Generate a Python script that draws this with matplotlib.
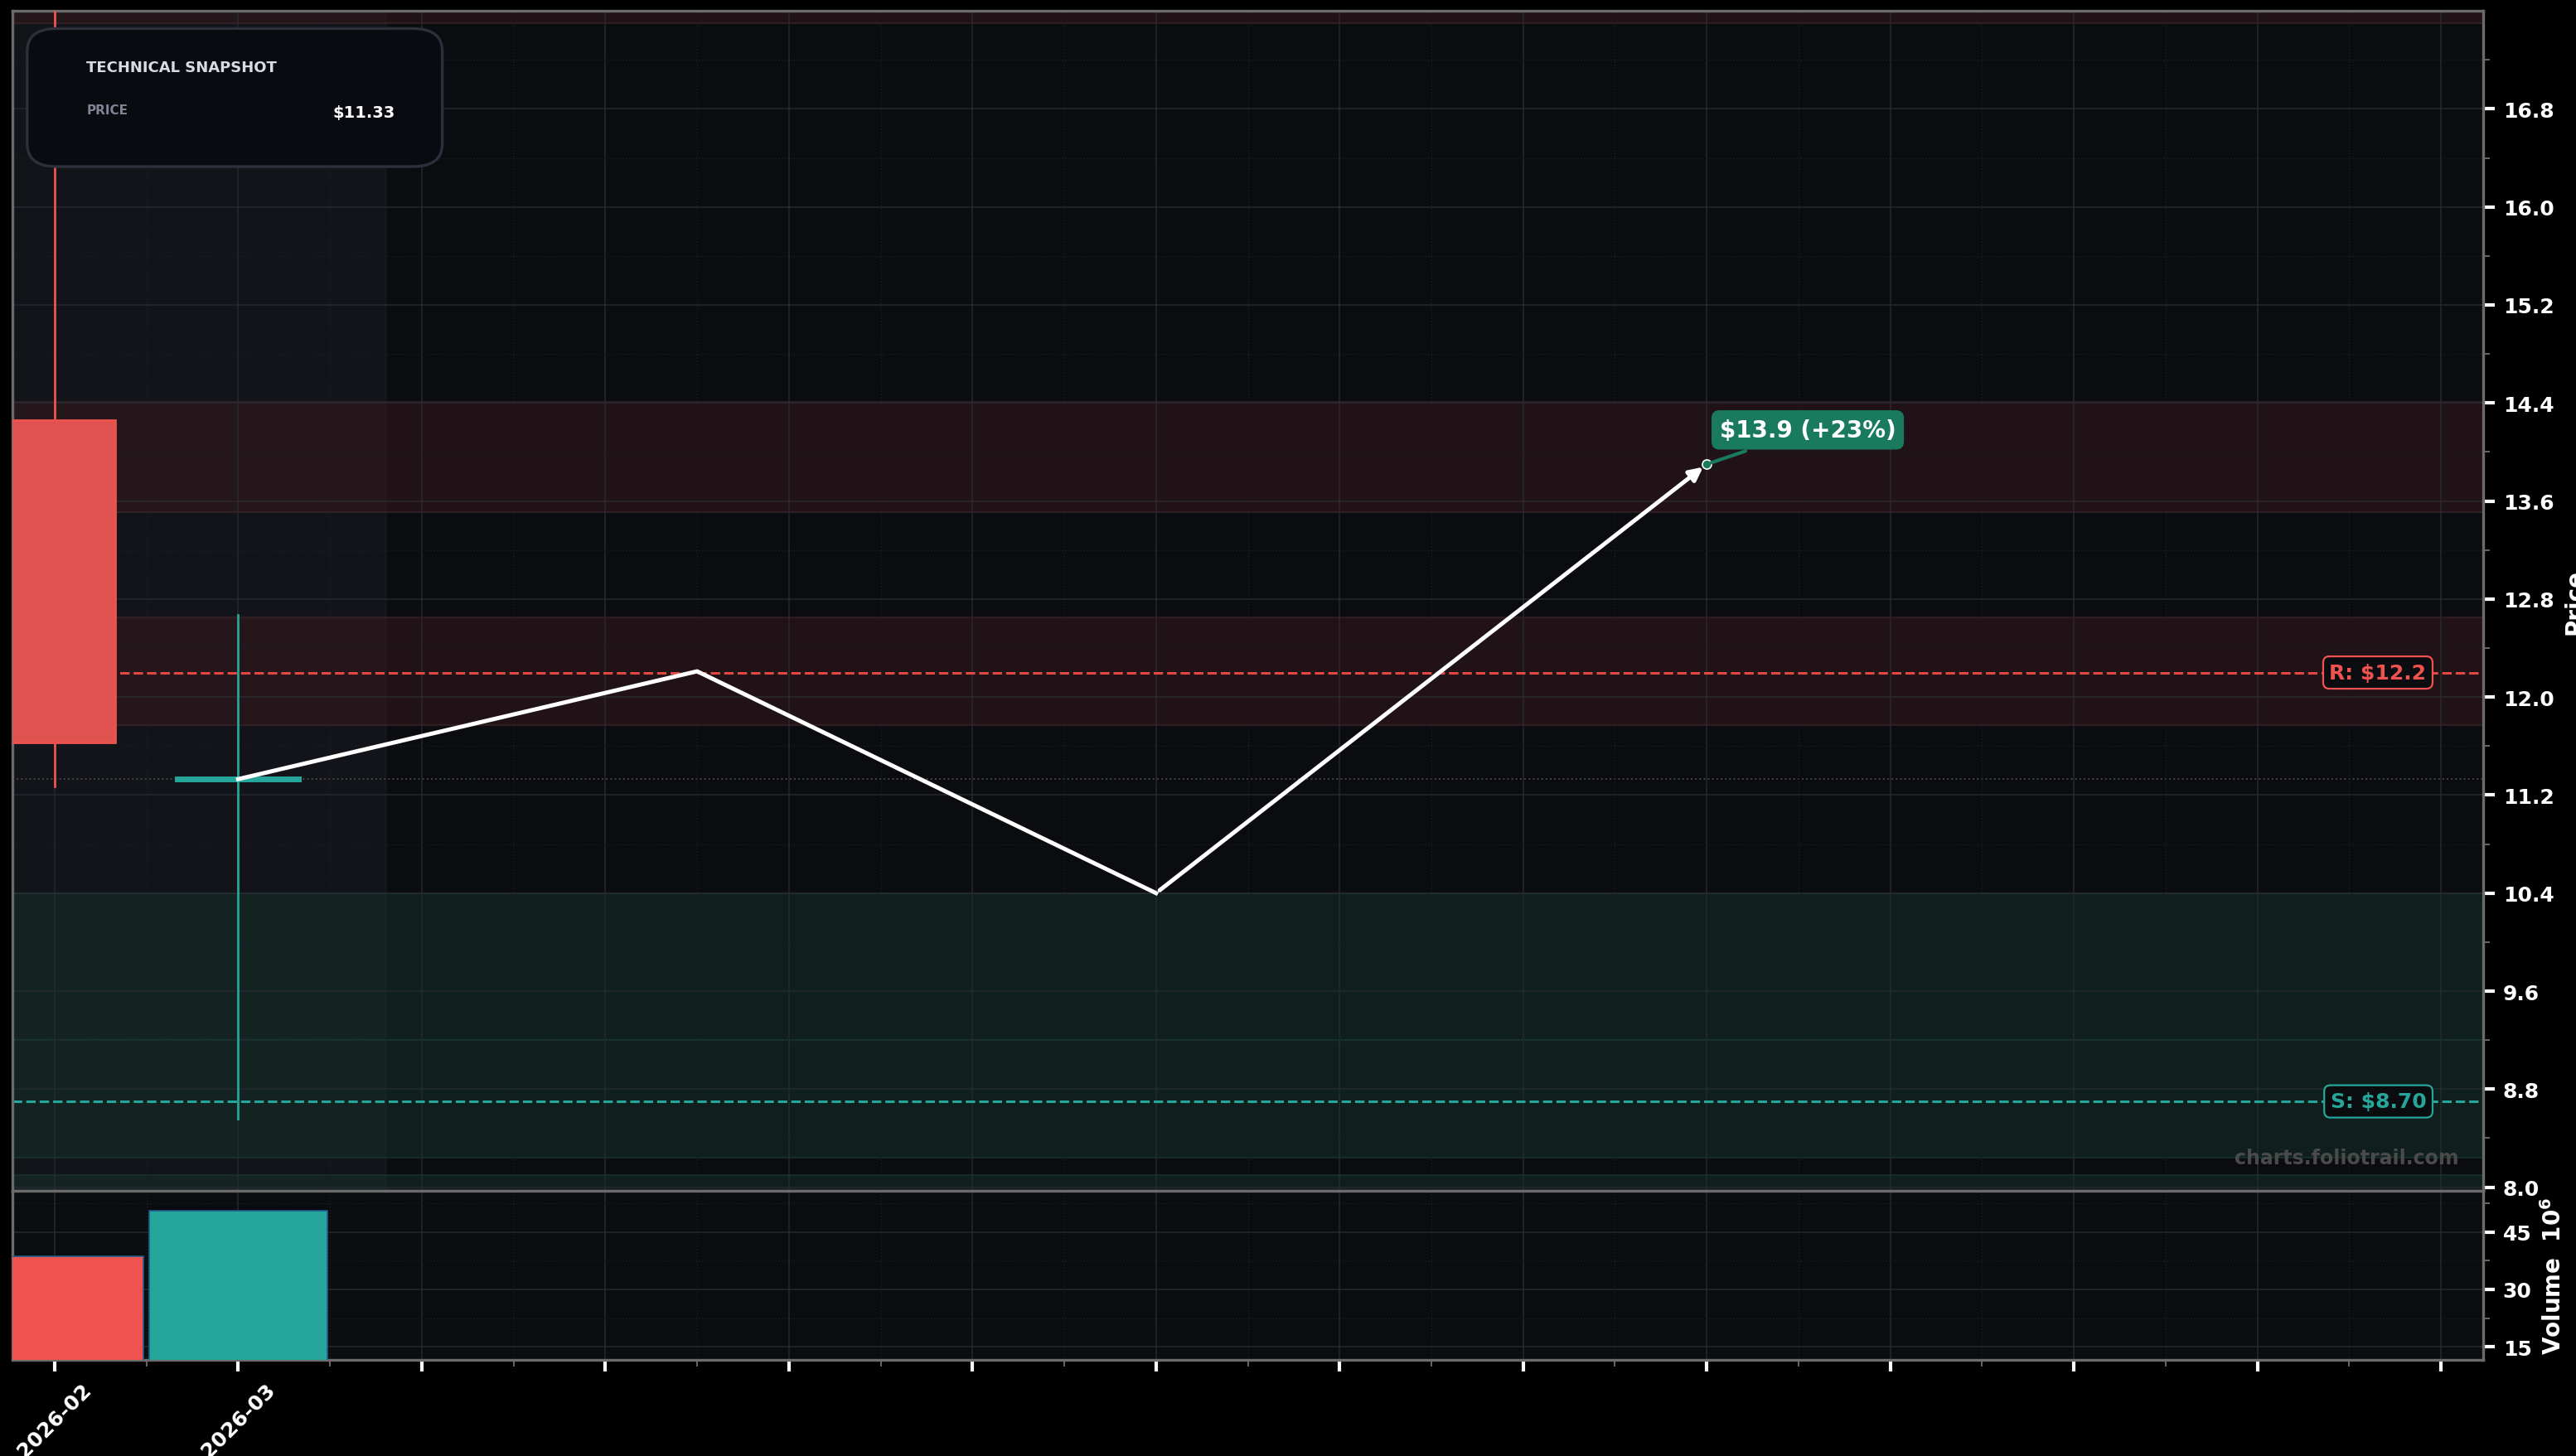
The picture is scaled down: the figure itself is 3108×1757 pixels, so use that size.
import numpy as np
import matplotlib
matplotlib.use("Agg")
import matplotlib.pyplot as plt
from matplotlib.patches import Rectangle, FancyBboxPatch

# candles (x index, o, h, l, c)
cx = [0, 1]
c_open = [14.26, 11.33]
c_high = [17.9, 12.67]
c_low = [11.27, 8.56]
c_close = [11.63, 11.33]
volume = [38.6, 50.6]  # millions
tick_labels = ["2026-02", "2026-03"]

# projection path
proj_x = [1, 3.5, 6, 9]
proj_y = [11.33, 12.21, 10.40, 13.9]

resistance = 12.2
support = 8.70
red_zones = [(13.51, 14.41), (11.77, 12.65), (17.5, 17.7)]
green_zones = [(9.2, 10.40), (8.24, 9.2), (7.9, 8.1)]

RED = "#ef5350"
TEAL = "#26a69a"
BG = "#0b0c10"

fig = plt.figure(figsize=(15.54, 8.79), dpi=200, facecolor="black")
ax = fig.add_axes([0.0048, 0.182, 0.9592, 0.810])
axv = fig.add_axes([0.0048, 0.066, 0.9592, 0.116], sharex=ax)

for a in (ax, axv):
    a.set_facecolor(BG)
    for s in a.spines.values():
        s.set_color("#6b6b6b")
        s.set_linewidth(1.2)
    a.grid(True, which="major", color="#2a2c33", lw=0.6, alpha=0.8)
    a.grid(True, which="minor", color="#1c1e24", lw=0.5, ls=":")
    a.yaxis.tick_right()
    a.yaxis.set_label_position("right")
    a.tick_params(colors="white", labelsize=9, width=1.5, length=5)
    a.tick_params(which="minor", colors="#777777", length=3)

ax.set_xlim(-0.23, 13.23)
ax.set_ylim(7.97, 17.6)
ax.set_yticks(np.arange(8.0, 17.0, 0.8))
ax.set_yticks(np.arange(8.4, 17.6, 0.8), minor=True)
ax.set_yticklabels([f"{v:.1f}" for v in np.arange(8.0, 17.0, 0.8)], fontweight="bold")
ax.set_xticks(range(0, 14))
ax.set_xticks(np.arange(0.5, 13.5, 1), minor=True)

# history shading
ax.axvspan(-0.23, 1.8, color="#1a1c22", alpha=0.5, zorder=0)
for lo, hi in red_zones:
    ax.axhspan(lo, hi, color="#36191e", alpha=0.5, zorder=0.5, lw=0.8, ec="#4a2a30")
for lo, hi in green_zones:
    ax.axhspan(lo, hi, color="#12302a", alpha=0.55, zorder=0.5, lw=0.8, ec="#1d3d35")

# candles
for x, o, h, l, c in zip(cx, c_open, c_high, c_low, c_close):
    col = TEAL if c >= o else RED
    ax.plot([x, x], [l, h], color=col, lw=1.0, zorder=3)
    if abs(c - o) < 0.05:
        ax.plot([x - 0.33, x + 0.33], [o, o], color=col, lw=2.5, zorder=3)
    else:
        ax.add_patch(Rectangle((x - 0.33, min(o, c)), 0.66, abs(c - o),
                               fc="#e0524f", ec=col, lw=1, zorder=3))

ax.axhline(c_close[-1], color="#444444", ls=":", lw=0.7, zorder=1)

# levels
ax.axhline(resistance, color="#e04848", ls="--", lw=1.1, zorder=2)
ax.axhline(support, color=TEAL, ls="--", lw=1.1, zorder=2)
ax.text(12.92, resistance, f"R: ${resistance:.1f}", color="#ef5350", fontsize=9,
        fontweight="bold", ha="right", va="center", zorder=5,
        bbox=dict(boxstyle="round,pad=0.3", fc=BG, ec="#ef5350", lw=0.8))
ax.text(12.92, support, f"S: ${support:.2f}", color=TEAL, fontsize=9,
        fontweight="bold", ha="right", va="center", zorder=5,
        bbox=dict(boxstyle="round,pad=0.3", fc=BG, ec=TEAL, lw=0.8))

# projection
ax.plot(proj_x[:-1], proj_y[:-1], color="white", lw=1.8, zorder=4)
ax.annotate("", xy=(proj_x[-1], proj_y[-1]), xytext=(proj_x[-2], proj_y[-2]),
            arrowprops=dict(arrowstyle="-|>", color="white", lw=1.8, mutation_scale=12), zorder=4)
ax.plot(proj_x[-1], proj_y[-1], "o", ms=4, mfc="#1a7a5e", mec="white", mew=0.6, zorder=5)
pct = (proj_y[-1] / c_close[-1] - 1) * 100
ax.annotate(f"${proj_y[-1]:.1f} (+{pct:.0f}%)", xy=(proj_x[-1], proj_y[-1]),
            xytext=(proj_x[-1] + 0.55, proj_y[-1] + 0.28), color="white", fontsize=10,
            fontweight="bold", ha="center", va="center", zorder=6,
            bbox=dict(boxstyle="round,pad=0.35", fc="#1a7a5e", ec="none"),
            arrowprops=dict(arrowstyle="-", color="#1a7a5e", lw=1.5))

ax.text(0.99, 0.02, "charts.foliotrail.com", transform=ax.transAxes, color="#4a4a4a",
        fontsize=8.5, fontweight="bold", ha="right", va="bottom")

ax.set_ylabel("Price", color="white", fontsize=10, fontweight="bold")
plt.setp(ax.get_xticklabels(), visible=False)

# info box
ax.add_patch(FancyBboxPatch((0.006, 0.868), 0.168, 0.117, transform=ax.transAxes,
                            boxstyle="round,pad=0,rounding_size=0.012", fc="#0a0b10",
                            ec="#2c303a", lw=1.2, zorder=7, mutation_aspect=1.6))
ax.text(0.030, 0.952, "TECHNICAL SNAPSHOT", transform=ax.transAxes, color="#d8dbe3",
        fontsize=6.5, fontweight="bold", zorder=8, va="center")
ax.text(0.030, 0.916, "PRICE", transform=ax.transAxes, color="#7f8594",
        fontsize=5.5, fontweight="bold", zorder=8, va="center")
ax.text(0.155, 0.914, f"${c_close[-1]:.2f}", transform=ax.transAxes, color="white",
        fontsize=7, fontweight="bold", zorder=8, va="center", ha="right")

# volume
vcols = [RED if c < o else TEAL for o, c in zip(c_open, c_close)]
axv.bar(cx, volume, width=0.97, color=vcols, edgecolor="#1f5f8f", lw=0.6, zorder=3)
axv.set_ylim(11.6, 55.7)
axv.set_yticks([15, 30, 45])
axv.set_yticks([22.5, 37.5, 52.5], minor=True)
axv.set_yticklabels(["15", "30", "45"], fontweight="bold")
axv.set_ylabel("Volume  $\\mathbf{10^6}$", color="white", fontsize=10, fontweight="bold")
axv.set_xticks(range(0, 14))
axv.set_xticklabels(tick_labels + [""] * 12, rotation=45, ha="center", fontweight="bold")

fig.savefig("out.png", dpi=200, facecolor="black")
